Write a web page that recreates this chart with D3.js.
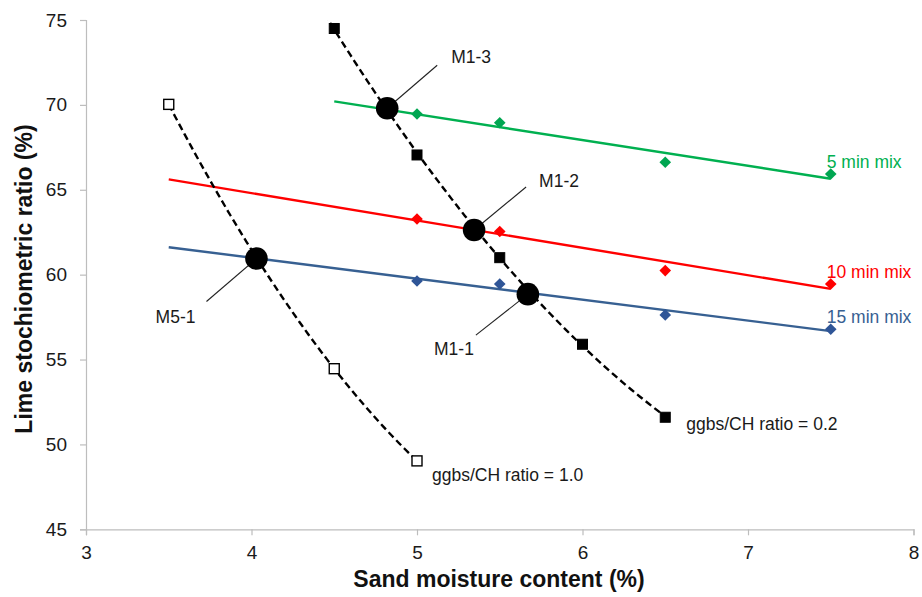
<!DOCTYPE html>
<html>
<head>
<meta charset="utf-8">
<script src="https://cdn.jsdelivr.net/npm/d3@7"></script>
<style>
  html, body { margin: 0; padding: 0; background: #fff; }
  svg { display: block; font-family: "Liberation Sans", Arial, sans-serif; }
</style>
</head>
<body>
<svg id="chart" width="922" height="597"></svg>
<script>
// Sand moisture content (%) at which each mix was tested
const moistureMix = [5, 5.5, 6.5, 7.5];
// Lime stochiometric ratio (%) per mixing time
const mix5min  = [69.46, 68.95, 66.62, 65.93];
const mix10min = [63.28, 62.54, 60.24, 59.45];
const mix15min = [59.63, 59.45, 57.63, 56.78];

// ggbs/CH ratio series
const moistureRatio02 = [4.5, 5, 5.5, 6, 6.5];
const limeRatio02     = [74.5, 67.05, 61.0, 55.9, 51.6];
const moistureRatio10 = [3.5, 4.5, 5];
const limeRatio10     = [70.03, 54.46, 49.03];

// Selected mixes where the curves cross
const mixNames    = ["M1-3", "M1-2", "M1-1", "M5-1"];
const mixMoisture = [4.82, 5.345, 5.67, 4.03];
const mixLime     = [69.8, 62.63, 58.85, 60.95];

// Axis ticks
const xTicks = [3, 4, 5, 6, 7, 8];
const yTicks = [45, 50, 55, 60, 65, 70, 75];

const svg = d3.select("#chart");
const x = d3.scaleLinear().domain([3, 8]).range([86, 913.5]);
const y = d3.scaleLinear().domain([45, 75]).range([529.3, 20]);

// --- axes ---
const axisColor = "#bdbdbd";
const xAxis = svg.append("g")
  .attr("transform", `translate(0,${y(45)})`)
  .call(d3.axisBottom(x).tickValues(xTicks).tickSize(6).tickPadding(10).tickFormat(d3.format("d")));
const yAxis = svg.append("g")
  .attr("transform", `translate(${x(3)},0)`)
  .call(d3.axisLeft(y).tickValues(yTicks).tickSize(6).tickPadding(13).tickFormat(d3.format("d")));
[xAxis, yAxis].forEach(g => {
  g.select(".domain").attr("stroke", axisColor).attr("stroke-width", 1.2);
  g.selectAll(".tick line").attr("stroke", axisColor).attr("stroke-width", 1.2);
  g.selectAll(".tick text").attr("fill", "#1a1a1a").attr("font-size", 19)
    .attr("font-family", "Liberation Sans, Arial, sans-serif");
});

svg.append("text")
  .attr("x", 499).attr("y", 587)
  .attr("text-anchor", "middle")
  .attr("font-size", 23).attr("font-weight", "bold").attr("fill", "#111")
  .text("Sand moisture content (%)");
svg.append("text")
  .attr("transform", "translate(32,279) rotate(-90)")
  .attr("text-anchor", "middle")
  .attr("font-size", 23).attr("font-weight", "bold").attr("fill", "#111")
  .text("Lime stochiometric ratio (%)");

// --- fitting helpers for trend lines ---
function linearFit(xs, ys) {
  const mx = d3.mean(xs), my = d3.mean(ys);
  let sxy = 0, sxx = 0;
  xs.forEach((v, i) => { sxy += (v - mx) * (ys[i] - my); sxx += (v - mx) ** 2; });
  const b = sxy / sxx;
  return t => my + b * (t - mx);
}
function quadraticFit(xs, ys) {
  // least squares y = a + b t + c t^2 via normal equations (Cramer's rule)
  let s = [0, 0, 0, 0, 0], r = [0, 0, 0];
  xs.forEach((t, i) => {
    for (let k = 0; k < 5; k++) s[k] += t ** k;
    for (let k = 0; k < 3; k++) r[k] += ys[i] * t ** k;
  });
  const A = [[s[0], s[1], s[2]], [s[1], s[2], s[3]], [s[2], s[3], s[4]]];
  const det = m => m[0][0]*(m[1][1]*m[2][2]-m[1][2]*m[2][1]) - m[0][1]*(m[1][0]*m[2][2]-m[1][2]*m[2][0]) + m[0][2]*(m[1][0]*m[2][1]-m[1][1]*m[2][0]);
  const D = det(A);
  const coef = [0, 1, 2].map(j => det(A.map((row, i) => row.map((v, k) => k === j ? r[i] : v))) / D);
  return t => coef[0] + coef[1] * t + coef[2] * t * t;
}

const line = d3.line().x(d => x(d[0])).y(d => y(d[1]));
const sample = (f, a, b, n = 80) => d3.range(n + 1).map(i => { const t = a + (b - a) * i / n; return [t, f(t)]; });

svg.append("clipPath").attr("id", "plot-clip")
  .append("rect").attr("x", x(3)).attr("y", y(75)).attr("width", x(8) - x(3)).attr("height", y(45) - y(75));
const plot = svg.append("g").attr("clip-path", "url(#plot-clip)");

// --- mixing time series: linear trend lines + diamond markers ---
const mixSeries = [
  { label: "5 min mix",  values: mix5min,  color: "#00b050", marker: "#00a651", from: 4.5 },
  { label: "10 min mix", values: mix10min, color: "#ff0000", marker: "#ff0000", from: 3.5 },
  { label: "15 min mix", values: mix15min, color: "#376092", marker: "#2f5597", from: 3.5 }
];
const diamond = "M0,-5.8L5.8,0L0,5.8L-5.8,0Z";

mixSeries.forEach(s => {
  const f = linearFit(moistureMix, s.values);
  plot.append("path")
    .attr("d", line([[s.from, f(s.from)], [7.5, f(7.5)]]))
    .attr("fill", "none").attr("stroke", s.color).attr("stroke-width", 2.4);
});

// --- ggbs/CH ratio curves (dashed polynomial trends) ---
const ratioSeries = [
  { label: "ggbs/CH ratio = 0.2", xs: moistureRatio02, ys: limeRatio02, from: 4.44, filled: true, tdx: 21, tdy: 13 },
  { label: "ggbs/CH ratio = 1.0", xs: moistureRatio10, ys: limeRatio10, from: 3.5, filled: false, tdx: 15, tdy: 20 }
];
ratioSeries.forEach(s => {
  const f = quadraticFit(s.xs, s.ys);
  plot.append("path")
    .attr("d", line(sample(f, s.from, d3.max(s.xs))))
    .attr("fill", "none").attr("stroke", "#000").attr("stroke-width", 2.4)
    .attr("stroke-dasharray", "7,4");
});

// diamond markers drawn on top of the lines
mixSeries.forEach(s => {
  svg.append("g").selectAll("path").data(s.values).join("path")
    .attr("d", diamond)
    .attr("transform", (v, i) => `translate(${x(moistureMix[i])},${y(v)})`)
    .attr("fill", s.marker);
  const last = s.values.length - 1;
  svg.append("text")
    .attr("x", x(moistureMix[last]) - 4).attr("y", y(s.values[last]) - 6)
    .attr("font-size", 17.5).attr("fill", s.color)
    .text(s.label);
});

ratioSeries.forEach(s => {
  svg.append("g").selectAll("rect").data(s.ys).join("rect")
    .attr("x", (v, i) => x(s.xs[i]) - 5).attr("y", v => y(v) - 5)
    .attr("width", 10).attr("height", 10)
    .attr("fill", s.filled ? "#000" : "#fff")
    .attr("stroke", "#000").attr("stroke-width", s.filled ? 1 : 1.4);
  const last = s.xs.length - 1;
  svg.append("text")
    .attr("x", x(s.xs[last]) + s.tdx).attr("y", y(s.ys[last]) + s.tdy)
    .attr("font-size", 17.5).attr("fill", "#1a1a1a")
    .text(s.label);
});

// --- selected mixes: leader lines, big dots, names ---
const leader = {
  "M1-3": { lx: 50, ly: -43, tx: 64, ty: -45, anchor: "start" },
  "M1-2": { lx: 52, ly: -43, tx: 65, ty: -43, anchor: "start" },
  "M1-1": { lx: -52, ly: 41, tx: -54, ty: 61, anchor: "end" },
  "M5-1": { lx: -50, ly: 43, tx: -61, ty: 64, anchor: "end" }
};
mixNames.forEach((name, i) => {
  const cx = x(mixMoisture[i]), cy = y(mixLime[i]);
  const o = leader[name];
  svg.append("line")
    .attr("x1", cx).attr("y1", cy).attr("x2", cx + o.lx).attr("y2", cy + o.ly)
    .attr("stroke", "#222").attr("stroke-width", 1.1);
  svg.append("circle").attr("cx", cx).attr("cy", cy).attr("r", 11.3).attr("fill", "#000");
  svg.append("text")
    .attr("x", cx + o.tx).attr("y", cy + o.ty)
    .attr("text-anchor", o.anchor)
    .attr("font-size", 17.5).attr("fill", "#1a1a1a")
    .text(name);
});
</script>
</body>
</html>
